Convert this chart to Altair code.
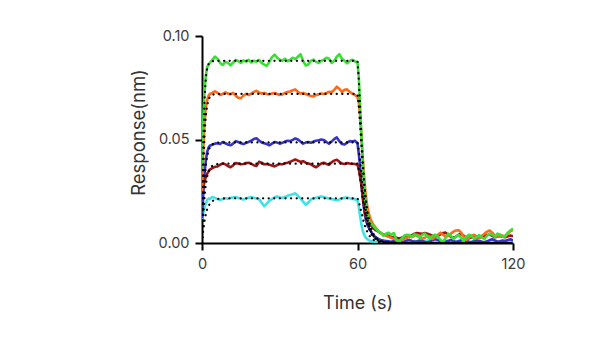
import altair as alt
import pandas as pd

# ---------------- data ----------------
TIME = ([0, 0.5, 1, 1.5, 2, 2.5, 3] + list(range(4, 61)) +
        [60.5, 61, 61.5, 62, 62.5, 63, 63.5, 64] + list(range(65, 121)))

GREEN = [0.036, 0.060, 0.074, 0.081, 0.085, 0.086, 0.087,
         0.0885, 0.0900, 0.0890, 0.0870, 0.0860, 0.0875, 0.0870, 0.0858, 0.0872, 0.0885,
         0.0878, 0.0870, 0.0882, 0.0876, 0.0885, 0.0872, 0.0880, 0.0876, 0.0885, 0.0870,
         0.0862, 0.0856, 0.0875, 0.0898, 0.0910, 0.0895, 0.0885, 0.0880, 0.0890, 0.0878,
         0.0885, 0.0895, 0.0888, 0.0900, 0.0912, 0.0880, 0.0858, 0.0862, 0.0880, 0.0886,
         0.0875, 0.0870, 0.0880, 0.0885, 0.0895, 0.0890, 0.0870, 0.0880, 0.0900, 0.0912,
         0.0890, 0.0880, 0.0868, 0.0880, 0.0885, 0.0878, 0.0872,
         0.0800, 0.0660, 0.0520, 0.0400, 0.0290, 0.0210, 0.0160, 0.0120,
         0.0095, 0.0085, 0.0070, 0.0055, 0.0050, 0.0035,
         0.0045, 0.0050, 0.0040, 0.0048, 0.0015, 0.0005, 0.0020, 0.0035, 0.0040, 0.0038,
         0.0030, 0.0042, 0.0035, 0.0025, 0.0040, 0.0045, 0.0030, 0.0020, 0.0035, 0.0040,
         0.0030, 0.0015, 0.0005, 0.0025, 0.0045, 0.0035, 0.0020, 0.0030, 0.0040, 0.0025,
         0.0010, 0.0030, 0.0040, 0.0035, 0.0020, 0.0030, 0.0038, 0.0025, 0.0020, 0.0035,
         0.0045, 0.0040, 0.0030, 0.0045, 0.0040, 0.0030, 0.0035, 0.0050, 0.0060, 0.0070]

ORANGE = [0.024, 0.045, 0.058, 0.066, 0.069, 0.071, 0.072,
          0.0725, 0.0733, 0.0725, 0.0715, 0.0720, 0.0728, 0.0722, 0.0718, 0.0725, 0.0712,
          0.0702, 0.0700, 0.0712, 0.0720, 0.0715, 0.0722, 0.0730, 0.0735, 0.0728, 0.0722,
          0.0725, 0.0720, 0.0718, 0.0722, 0.0725, 0.0720, 0.0715, 0.0718, 0.0725, 0.0730,
          0.0732, 0.0738, 0.0742, 0.0730, 0.0722, 0.0725, 0.0720, 0.0715, 0.0710, 0.0708,
          0.0715, 0.0718, 0.0722, 0.0720, 0.0725, 0.0730, 0.0728, 0.0740, 0.0755, 0.0745,
          0.0730, 0.0740, 0.0742, 0.0730, 0.0722, 0.0715, 0.0705,
          0.0680, 0.0610, 0.0520, 0.0420, 0.0330, 0.0255, 0.0200, 0.0160,
          0.0115, 0.0090, 0.0075, 0.0060, 0.0048, 0.0040,
          0.0035, 0.0030, 0.0025, 0.0020, 0.0015, 0.0010, 0.0015, 0.0020, 0.0025, 0.0030,
          0.0028, 0.0035, 0.0040, 0.0030, 0.0020, 0.0025, 0.0035, 0.0030, 0.0020, 0.0028,
          0.0040, 0.0050, 0.0040, 0.0030, 0.0035, 0.0045, 0.0055, 0.0060, 0.0062, 0.0050,
          0.0030, 0.0015, 0.0025, 0.0035, 0.0040, 0.0030, 0.0025, 0.0035, 0.0045, 0.0055,
          0.0060, 0.0050, 0.0035, 0.0030, 0.0040, 0.0035, 0.0030, 0.0045, 0.0058, 0.0062]

BLUE = [0.012, 0.024, 0.034, 0.040, 0.044, 0.046, 0.047,
        0.0475, 0.0480, 0.0482, 0.0478, 0.0488, 0.0482, 0.0476, 0.0472, 0.0480, 0.0492,
        0.0488, 0.0482, 0.0478, 0.0484, 0.0488, 0.0495, 0.0502, 0.0506, 0.0495, 0.0486,
        0.0482, 0.0478, 0.0472, 0.0480, 0.0488, 0.0485, 0.0480, 0.0484, 0.0490, 0.0494,
        0.0492, 0.0498, 0.0505, 0.0500, 0.0490, 0.0480, 0.0485, 0.0488, 0.0484, 0.0490,
        0.0494, 0.0496, 0.0500, 0.0498, 0.0488, 0.0480, 0.0490, 0.0502, 0.0510, 0.0492,
        0.0478, 0.0476, 0.0485, 0.0492, 0.0490, 0.0494, 0.0482,
        0.0430, 0.0370, 0.0285, 0.0220, 0.0165, 0.0125, 0.0100, 0.0082,
        0.0060, 0.0040, 0.0028, 0.0020, 0.0015, 0.0012,
        0.0010, 0.0008, 0.0005, 0.0010, 0.0012, 0.0008, 0.0004, 0.0006, 0.0012, 0.0015,
        0.0010, 0.0006, 0.0008, 0.0012, 0.0010, 0.0005, 0.0003, 0.0008, 0.0014, 0.0018,
        0.0015, 0.0008, 0.0004, 0.0006, 0.0010, 0.0014, 0.0010, 0.0005, 0.0008, 0.0012,
        0.0016, 0.0010, 0.0006, 0.0004, 0.0008, 0.0012, 0.0010, 0.0006, 0.0004, 0.0008,
        0.0014, 0.0018, 0.0012, 0.0006, 0.0008, 0.0012, 0.0010, 0.0014, 0.0018, 0.0012]

RED = [0.0240, 0.0275, 0.0300, 0.0320, 0.0335, 0.0345, 0.0355,
       0.0362, 0.0368, 0.0370, 0.0378, 0.0385, 0.0380, 0.0372, 0.0366, 0.0375, 0.0386,
       0.0384, 0.0380, 0.0382, 0.0386, 0.0388, 0.0382, 0.0376, 0.0372, 0.0392, 0.0388,
       0.0380, 0.0382, 0.0378, 0.0374, 0.0370, 0.0376, 0.0382, 0.0380, 0.0385, 0.0388,
       0.0392, 0.0398, 0.0403, 0.0398, 0.0392, 0.0395, 0.0388, 0.0384, 0.0380, 0.0372,
       0.0366, 0.0375, 0.0384, 0.0388, 0.0382, 0.0378, 0.0390, 0.0398, 0.0402, 0.0392,
       0.0384, 0.0382, 0.0386, 0.0384, 0.0383, 0.0382, 0.0378,
       0.0355, 0.0320, 0.0280, 0.0230, 0.0180, 0.0140, 0.0120, 0.0105,
       0.0088, 0.0073, 0.0062, 0.0055, 0.0048, 0.0042,
       0.0038, 0.0035, 0.0030, 0.0028, 0.0025, 0.0022, 0.0025, 0.0030, 0.0028, 0.0032,
       0.0038, 0.0045, 0.0048, 0.0046, 0.0044, 0.0048, 0.0045, 0.0040, 0.0035, 0.0030,
       0.0035, 0.0042, 0.0048, 0.0050, 0.0040, 0.0030, 0.0025, 0.0030, 0.0040, 0.0045,
       0.0035, 0.0025, 0.0022, 0.0028, 0.0032, 0.0028, 0.0025, 0.0030, 0.0035, 0.0038,
       0.0042, 0.0035, 0.0028, 0.0030, 0.0034, 0.0030, 0.0028, 0.0032, 0.0036, 0.0032]

CYAN = [0.0115, 0.0145, 0.0172, 0.0192, 0.0208, 0.0215, 0.0212,
        0.0222, 0.0218, 0.0212, 0.0208, 0.0212, 0.0216, 0.0214, 0.0218, 0.0220, 0.0222,
        0.0218, 0.0214, 0.0210, 0.0215, 0.0219, 0.0222, 0.0218, 0.0215, 0.0212, 0.0195,
        0.0178, 0.0190, 0.0205, 0.0212, 0.0220, 0.0225, 0.0220, 0.0218, 0.0222, 0.0228,
        0.0232, 0.0236, 0.0240, 0.0228, 0.0215, 0.0200, 0.0185, 0.0195, 0.0210, 0.0215,
        0.0218, 0.0222, 0.0225, 0.0222, 0.0218, 0.0215, 0.0212, 0.0210, 0.0206, 0.0210,
        0.0215, 0.0218, 0.0220, 0.0216, 0.0213, 0.0212, 0.0205,
        0.0175, 0.0130, 0.0090, 0.0060, 0.0042, 0.0030, 0.0022, 0.0016,
        0.0010, 0.0007, 0.0006, 0.0005, 0.0005, 0.0004,
        0.0004, 0.0005, 0.0006, 0.0004, 0.0003, 0.0005, 0.0008, 0.0006, 0.0004, 0.0005,
        0.0007, 0.0009, 0.0006, 0.0004, 0.0006, 0.0010, 0.0012, 0.0008, 0.0005, 0.0004,
        0.0006, 0.0008, 0.0010, 0.0012, 0.0009, 0.0006, 0.0004, 0.0006, 0.0010, 0.0014,
        0.0012, 0.0008, 0.0005, 0.0006, 0.0009, 0.0012, 0.0010, 0.0006, 0.0004, 0.0007,
        0.0010, 0.0013, 0.0011, 0.0007, 0.0005, 0.0008, 0.0011, 0.0009, 0.0006, 0.0005]

# fitted curves (black dotted)
FIT_TIME = [0, 0.5, 1, 1.5, 2, 2.5, 3, 4, 5, 6, 8, 10, 60, 60.5, 61, 61.5, 62, 62.5,
            63, 63.5, 64, 65, 66, 68, 70, 75, 120]
FIT_GREEN = [0, .0485, .0700, .0800, .0845, .0864, .0873, .0878, .0880, .0880, .0880, .0880,
             .0880, .0790, .0660, .0520, .0400, .0300, .0225, .0165, .0120, .0065, .0035,
             .0010, .0003, 0, 0]
FIT_ORANGE = [0, .0345, .0530, .0620, .0665, .0692, .0705, .0716, .0719, .0720, .0720, .0720,
              .0720, .0660, .0570, .0470, .0380, .0300, .0235, .0180, .0138, .0080, .0046,
              .0015, .0005, 0, 0]
FIT_BLUE = [0, .0191, .0307, .0378, .0420, .0446, .0462, .0477, .0483, .0485, .0486, .0486,
            .0486, .0450, .0395, .0330, .0270, .0215, .0170, .0132, .0102, .0060, .0035,
            .0012, .0004, 0, 0]
FIT_RED = [0, .0138, .0227, .0284, .0320, .0343, .0357, .0373, .0379, .0381, .0383, .0383,
           .0383, .0355, .0315, .0265, .0218, .0175, .0138, .0108, .0084, .0050, .0030,
           .0010, .0003, 0, 0]
FIT_CYAN = [0, .0064, .0109, .0141, .0163, .0178, .0189, .0203, .0209, .0213, .0215, .0216,
            .0216, .0200, .0175, .0148, .0122, .0098, .0078, .0061, .0047, .0028, .0016,
            .0005, .0002, 0, 0]

SERIES = ["cyan", "blue", "red", "orange", "green"]
COLORS = {"cyan": "#3fe3e6", "blue": "#3434c8", "red": "#9e1414",
          "orange": "#ff6a17", "green": "#38e034"}
DATA = {"cyan": CYAN, "blue": BLUE, "red": RED, "orange": ORANGE, "green": GREEN}
FITS = {"cyan": FIT_CYAN, "blue": FIT_BLUE, "red": FIT_RED,
        "orange": FIT_ORANGE, "green": FIT_GREEN}

FONT = "Inter"

x_scale = alt.Scale(domain=[0, 120], nice=False, zero=False)
y_scale = alt.Scale(domain=[0, 0.1], nice=False)

x_axis = alt.Axis(values=[0, 60, 120], title="Time (s)", grid=False, labelFlush=False,
                  domainColor="black", domainWidth=2, tickColor="black", tickWidth=2,
                  tickSize=7, labelFont=FONT, labelFontSize=14.5, labelColor="#3a3a3a",
                  labelPadding=7, titleFont=FONT, titleFontSize=18,
                  titleFontWeight="normal", titleColor="#333333",
                  titleX=155.5, titleY=65, titleBaseline="alphabetic",
                  titleAlign="center")
y_axis = alt.Axis(values=[0, 0.05, 0.1], format=".2f", title="Response(nm)", grid=False,
                  labelFlush=False,
                  domainColor="black", domainWidth=2, tickColor="black", tickWidth=2,
                  tickSize=7, labelFont=FONT, labelFontSize=14.5, labelColor="#3a3a3a",
                  labelPadding=6, titleFont=FONT, titleFontSize=18.5,
                  titleFontWeight="normal", titleColor="#333333",
                  titleX=-64, titleY=96, titleAngle=270, titleAlign="center",
                  titleBaseline="middle")

rows = []
for s in SERIES:
    for t, v in zip(TIME, DATA[s]):
        rows.append({"t": t, "v": v, "s": s, "kind": "data"})
    for t, v in zip(FIT_TIME, FITS[s]):
        rows.append({"t": t, "v": v, "s": s, "kind": "fit"})
df_all = pd.DataFrame(rows)

layers = []
for s in SERIES:
    layers.append(alt.Chart(df_all).transform_filter(
        (alt.datum.s == s) & (alt.datum.kind == "data")
    ).mark_line(color=COLORS[s], strokeWidth=2.6, strokeJoin="round", clip=True)
     .encode(x=alt.X("t:Q", scale=x_scale, axis=x_axis),
             y=alt.Y("v:Q", scale=y_scale, axis=y_axis)))
for s in SERIES:
    layers.append(alt.Chart(df_all).transform_filter(
        (alt.datum.s == s) & (alt.datum.kind == "fit")
    ).mark_line(color="black", strokeWidth=2.2, strokeDash=[0.1, 5.5],
                strokeCap="round", clip=True)
     .encode(x=alt.X("t:Q", scale=x_scale, axis=x_axis),
             y=alt.Y("v:Q", scale=y_scale, axis=y_axis)))

chart = alt.layer(*layers).properties(
    width=311, height=207,
    background="white",
    autosize=alt.AutoSizeParams(type="none"),
    padding={"left": 202, "top": 36, "right": 87, "bottom": 95},
).configure_view(stroke=None)

chart.save("out.html", embed_options={"renderer": "svg", "actions": False})
